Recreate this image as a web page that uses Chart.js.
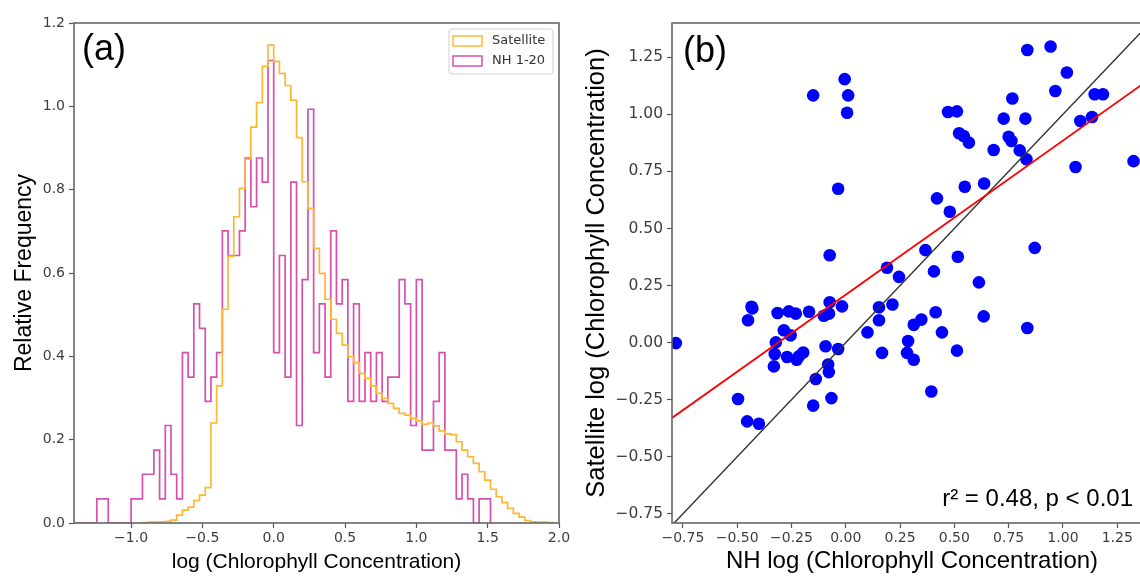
<!DOCTYPE html>
<html>
<head>
<meta charset="utf-8">
<script src="https://cdn.jsdelivr.net/npm/chart.js@4.4.1/dist/chart.umd.min.js"></script>
<style>
  html, body { margin: 0; padding: 0; background: #fff; overflow: hidden; width: 1140px; height: 576px; }
  #panelA { position: absolute; left: 0; top: 0; }
  #panelB { position: absolute; left: 580px; top: 0; }
</style>
</head>
<body>
<canvas id="panelA" width="580" height="576"></canvas>
<canvas id="panelB" width="580" height="576"></canvas>
<script>
// ---- panel (a): histograms, bin width 0.04 ----
const binWidth = 0.04;
const satStart = -0.92;
const satFreq = [0.001, 0.002, 0.002, 0.003, 0.004, 0.007, 0.019, 0.031, 0.038, 0.054, 0.067, 0.085,
  0.24, 0.329, 0.513, 0.64, 0.735, 0.803, 0.873, 0.950, 1.009, 1.096, 1.147, 1.108,
  1.079, 1.050, 1.015, 0.925, 0.819, 0.755, 0.659, 0.599, 0.537, 0.489, 0.455, 0.427,
  0.399, 0.385, 0.359, 0.347, 0.329, 0.311, 0.299, 0.287, 0.275, 0.263, 0.259, 0.251,
  0.245, 0.237, 0.240, 0.233, 0.221, 0.214, 0.212, 0.195, 0.175, 0.159, 0.143, 0.123,
  0.103, 0.081, 0.063, 0.049, 0.035, 0.023, 0.014, 0.006, 0.003, 0.002, 0.002, 0.001];
const nhStart = -1.40;
const nhFreq = [0, 0, 0, 0, 0.058, 0.058, 0, 0, 0, 0,
  0.058, 0.058, 0.117, 0.117, 0.175, 0.058, 0.234, 0.117, 0.058, 0.409,
  0.350, 0.526, 0.467, 0.292, 0.350, 0.409, 0.701, 0.642, 0.642, 0.701,
  0.876, 0.759, 0.876, 0.818, 1.110, 0.409, 0.642, 0.350, 0.818, 0.234,
  0.584, 0.993, 0.409, 0.526, 0.350, 0.701, 0.526, 0.584, 0.292, 0.526,
  0.292, 0.409, 0.292, 0.409, 0.292, 0.350, 0.350, 0.584, 0.526, 0.234,
  0.584, 0.175, 0.175, 0.292, 0.409, 0.175, 0.175, 0.058, 0.117, 0.058,
  0, 0.058, 0.058];
const histXTicks = [-1.0, -0.5, 0.0, 0.5, 1.0, 1.5, 2.0];
const histYTicks = [0.0, 0.2, 0.4, 0.6, 0.8, 1.0, 1.2];

// ---- panel (b): scatter ----
const nhLog = [-0.150, -0.005, 0.011, 0.006, -0.035, -0.074, 0.836, 0.943, 1.018, 0.965,
  0.767, 0.471, 0.512, 0.727, 0.827, 1.146, 1.184, 1.134, 1.080, 0.522,
  0.543, 0.567, 0.750, 0.763, 0.681, 0.801, 0.832, 1.058, 1.325, 0.637,
  0.548, 0.420, 0.479, 0.367, 0.870, 0.516, 0.190, 0.245, 0.406, 0.613,
  0.153, 0.215, 0.153, 0.100, 0.313, 0.348, 0.414, 0.635, 0.836, 0.443,
  0.287, 0.167, 0.282, 0.313, 0.512, 0.394, -0.782, -0.434, -0.430, -0.450,
  -0.496, -0.454, -0.400, -0.314, -0.262, -0.230, -0.169, -0.285, -0.254, -0.322,
  -0.327, -0.331, -0.270, -0.226, -0.196, -0.216, -0.101, -0.077, -0.074, -0.017,
  -0.093, -0.035, -0.081, -0.078, -0.138, -0.150, -0.066];
const satLog = [1.083, 1.154, 1.083, 1.007, 0.674, 0.383, 1.282, 1.297, 1.183, 1.102,
  1.069, 1.010, 1.013, 0.981, 0.981, 1.088, 1.088, 0.988, 0.971, 0.917,
  0.905, 0.876, 0.902, 0.883, 0.844, 0.842, 0.803, 0.769, 0.795, 0.697,
  0.683, 0.632, 0.573, 0.405, 0.415, 0.376, 0.328, 0.288, 0.312, 0.264,
  0.155, 0.167, 0.098, 0.045, 0.078, 0.101, 0.133, 0.115, 0.064, 0.045,
  0.007, -0.045, -0.045, -0.075, -0.035, -0.214, -0.002, 0.157, 0.150, 0.098,
  -0.247, -0.345, -0.355, 0.130, 0.137, 0.127, 0.135, 0.054, 0.032, 0.001,
  -0.050, -0.104, -0.063, -0.075, -0.043, -0.060, 0.118, 0.127, 0.177, 0.159,
  -0.016, -0.028, -0.096, -0.129, -0.159, -0.276, -0.243];
const fitSlope = 0.675;
const fitIntercept = 0.21;
const scatXTicks = [-0.75, -0.50, -0.25, 0.00, 0.25, 0.50, 0.75, 1.00, 1.25];
const scatYTicks = [-0.75, -0.50, -0.25, 0.00, 0.25, 0.50, 0.75, 1.00, 1.25];
const scatXRange = [-0.80, 1.41];
const scatYRange = [-0.79, 1.40];

Chart.defaults.font.family = "'DejaVu Sans', sans-serif";
Chart.defaults.animation = false;

const fmt = (v, d) => v.toFixed(d).replace('-', '\u2212');
const titleFont = size => ({ family: "'Liberation Sans', Arial, sans-serif", size: size });

function stepPoints(start, width, freq) {
  const pts = [{ x: start, y: 0 }];
  freq.forEach((f, i) => pts.push({ x: +(start + i * width).toFixed(3), y: f }));
  pts.push({ x: +(start + freq.length * width).toFixed(3), y: 0 });
  return pts;
}

const framePlugin = {
  id: 'frame',
  afterDatasetsDraw(chart) {
    const { ctx, chartArea: a } = chart;
    ctx.save();
    ctx.strokeStyle = '#666';
    ctx.lineWidth = 1.6;
    ctx.strokeRect(a.left, a.top, a.right - a.left, a.bottom - a.top);
    ctx.restore();
  }
};

function axisStyle(ticks, digits, fitSize, isX, tickPad, fontSize) {
  return {
    type: 'linear',
    afterBuildTicks: axis => { axis.ticks = ticks.map(v => ({ value: v })); },
    afterFit: s => { if (isX) s.height = fitSize; else s.width = fitSize; },
    grid: { drawOnChartArea: false, drawTicks: true, tickLength: 5, color: '#555', tickWidth: 1.2 },
    border: { display: false },
    ticks: { color: '#3d3d3d', font: { size: fontSize }, padding: tickPad, maxRotation: 0,
             callback: v => fmt(v, digits) }
  };
}

// ---------- panel (a) ----------
const histA = new Chart(document.getElementById('panelA'), {
  type: 'line',
  data: {
    datasets: [
      { label: 'Satellite', data: stepPoints(satStart, binWidth, satFreq),
        borderColor: '#ffb733', borderWidth: 1.7, stepped: 'before', pointRadius: 0, fill: false },
      { label: 'NH 1-20', data: stepPoints(nhStart, binWidth, nhFreq),
        borderColor: '#d850ae', borderWidth: 1.7, stepped: 'before', pointRadius: 0, fill: false }
    ]
  },
  options: {
    responsive: false,
    layout: { padding: { left: 0, top: 23, right: 21, bottom: 0 } },
    plugins: { legend: { display: false }, tooltip: { enabled: false } },
    scales: {
      x: Object.assign(axisStyle(histXTicks, 1, 53, true, 2, 14), {
        min: -1.40, max: 2.0,
        title: { display: true, text: 'log (Chlorophyll Concentration)', color: '#000',
                 font: titleFont(21), padding: { top: 0, bottom: 1 } }
      }),
      y: Object.assign(axisStyle(histYTicks, 1, 74, false, 4, 14), {
        min: 0, max: 1.2,
        title: { display: true, text: 'Relative Frequency', color: '#000',
                 font: titleFont(23), padding: { top: 11, bottom: 0 } }
      })
    }
  },
  plugins: [framePlugin, {
    id: 'panelA',
    afterDraw(chart) {
      const ctx = chart.ctx;
      ctx.save();
      ctx.fillStyle = '#000';
      ctx.font = "36px 'Liberation Sans', Arial, sans-serif";
      ctx.textBaseline = 'alphabetic';
      ctx.fillText('(a)', 82, 60);
      // legend box
      const bx = 449, by = 29, bw = 104, bh = 45;
      ctx.fillStyle = 'rgba(255,255,255,0.85)';
      ctx.strokeStyle = '#d0d0d0';
      ctx.lineWidth = 1;
      ctx.beginPath();
      ctx.roundRect(bx, by, bw, bh, 3);
      ctx.fill();
      ctx.stroke();
      ctx.font = "13px 'DejaVu Sans', sans-serif";
      ctx.textBaseline = 'middle';
      chart.data.datasets.forEach((ds, i) => {
        const y = 41 + i * 20;
        ctx.strokeStyle = ds.borderColor;
        ctx.lineWidth = 1.5;
        ctx.strokeRect(453, y - 5, 29, 10);
        ctx.fillStyle = '#333';
        ctx.fillText(ds.label, 492, y);
      });
      ctx.restore();
    }
  }]
});

// ---------- panel (b) ----------
const scatterPts = nhLog.map((x, i) => ({ x: x, y: satLog[i] }));
const fitLine = scatXRange.map(x => ({ x: x, y: fitSlope * x + fitIntercept }));
const oneToOne = scatXRange.map(x => ({ x: x, y: x }));

const scatB = new Chart(document.getElementById('panelB'), {
  type: 'scatter',
  data: {
    datasets: [
      { type: 'line', data: oneToOne, borderColor: '#333', borderWidth: 1.4, pointRadius: 0, order: 1 },
      { type: 'line', data: fitLine, borderColor: '#ff0000', borderWidth: 1.8, pointRadius: 0, order: 0 },
      { data: scatterPts, backgroundColor: '#0000ff', borderWidth: 0, pointRadius: 6.3, order: 2 }
    ]
  },
  options: {
    responsive: false,
    layout: { padding: { left: 0, top: 23, right: 8, bottom: 0 } },
    plugins: { legend: { display: false }, tooltip: { enabled: false } },
    scales: {
      x: Object.assign(axisStyle(scatXTicks, 2, 53, true, 2, 14), {
        min: scatXRange[0], max: scatXRange[1],
        title: { display: true, text: 'NH log (Chlorophyll Concentration)', color: '#000',
                 font: titleFont(24), padding: { top: 0, bottom: 0 } }
      }),
      y: Object.assign(axisStyle(scatYTicks, 2, 92, false, 4, 15.5), {
        min: scatYRange[0], max: scatYRange[1],
        title: { display: true, text: 'Satellite log (Chlorophyll Concentration)', color: '#000',
                 font: titleFont(25.5), padding: { top: 2, bottom: 0 } }
      })
    }
  },
  plugins: [framePlugin, {
    id: 'panelB',
    afterDraw(chart) {
      const ctx = chart.ctx;
      ctx.save();
      ctx.fillStyle = '#000';
      ctx.font = "36px 'Liberation Sans', Arial, sans-serif";
      ctx.textBaseline = 'alphabetic';
      ctx.fillText('(b)', 103, 62);
      ctx.font = "24px 'Liberation Sans', Arial, sans-serif";
      ctx.textAlign = 'right';
      ctx.fillText('r\u00b2 = 0.48, p < 0.01', 553, 506);
      ctx.restore();
    }
  }]
});
</script>
</body>
</html>
